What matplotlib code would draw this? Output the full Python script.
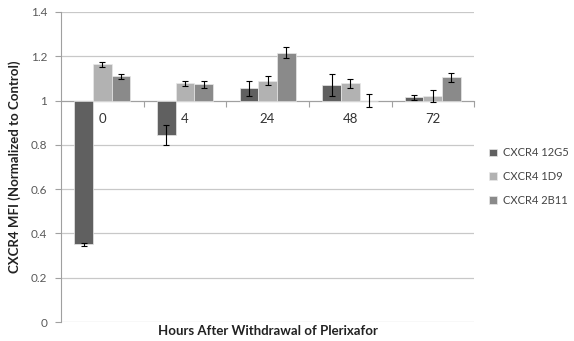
import matplotlib
matplotlib.use('Agg')
import matplotlib.pyplot as plt
import numpy as np

# values
hours = ['0', '4', '24', '48', '72']
series = ['CXCR4 12G5', 'CXCR4 1D9', 'CXCR4 2B11']
mfi_12g5 = [0.35, 0.845, 1.055, 1.07, 1.015]
mfi_1d9 = [1.163, 1.077, 1.09, 1.077, 1.02]
mfi_2b11 = [1.11, 1.073, 1.215, 1.0, 1.104]
err_12g5 = [0.005, 0.046, 0.033, 0.048, 0.012]
err_1d9 = [0.013, 0.011, 0.021, 0.02, 0.027]
err_2b11 = [0.012, 0.017, 0.025, 0.03, 0.021]

colors = ['#606060', '#b2b2b2', '#8a8a8a']
plt.rcParams['font.family'] = ['Lato', 'DejaVu Sans']

fig = plt.figure(figsize=(5.74, 3.41), dpi=100)
ax = fig.add_axes([0.1063, 0.0557, 0.7197, 0.9093])

x = np.arange(len(hours))
w = 0.226
vals = [mfi_12g5, mfi_1d9, mfi_2b11]
errs = [err_12g5, err_1d9, err_2b11]
for i in range(3):
    v = np.array(vals[i])
    ax.bar(x + (i - 1) * w, v - 1, bottom=1, width=w, color=colors[i],
           edgecolor='#e8e8e8', linewidth=0.5, label=series[i], zorder=3,
           yerr=errs[i], error_kw=dict(ecolor='black', elinewidth=0.8,
                                       capsize=2, capthick=0.8, zorder=4))

ax.set_xlim(-0.5, 4.5)
ax.set_ylim(0, 1.4)
ax.set_yticks(np.arange(0, 1.41, 0.2))
ax.set_yticklabels(['0', '0.2', '0.4', '0.6', '0.8', '1', '1.2', '1.4'])
ax.yaxis.grid(True, color='#c8c8c8', linewidth=0.9, zorder=0)
ax.set_axisbelow(True)

# category axis sits on y = 1
ax.spines['bottom'].set_position(('data', 1))
ax.spines['bottom'].set_color('#a0a0a0')
ax.spines['bottom'].set_zorder(2)
ax.spines['left'].set_color('#a0a0a0')
ax.spines['top'].set_visible(False)
ax.spines['right'].set_visible(False)
ax.set_xticks(x + 0.5)
ax.set_xticklabels([])
ax.set_xticks(x, minor=True)
ax.set_xticklabels(hours, minor=True)
ax.tick_params(axis='x', which='major', direction='out', length=4, color='#a0a0a0')
ax.tick_params(axis='x', which='minor', length=0, pad=9, labelsize=9.5, labelcolor='#333333')
ax.tick_params(axis='y', direction='out', length=4, color='#a0a0a0',
               labelsize=8.5, labelcolor='#595959', pad=6)

ax.set_ylabel('CXCR4 MFI (Normalized to Control)', fontsize=9.5,
              fontweight='bold', color='#222222', labelpad=7)
ax.text(0.5, -0.03, 'Hours After Withdrawal of Plerixafor', transform=ax.transAxes,
        ha='center', va='center', fontsize=9.5, fontweight='bold', color='#222222')

fig.legend(loc='center left', bbox_to_anchor=(0.835, 0.482), frameon=False,
           fontsize=8, handlelength=0.7, handleheight=0.7, handletextpad=0.5,
           labelspacing=1.15, labelcolor='#444444')

fig.savefig('out.png', dpi=100)
